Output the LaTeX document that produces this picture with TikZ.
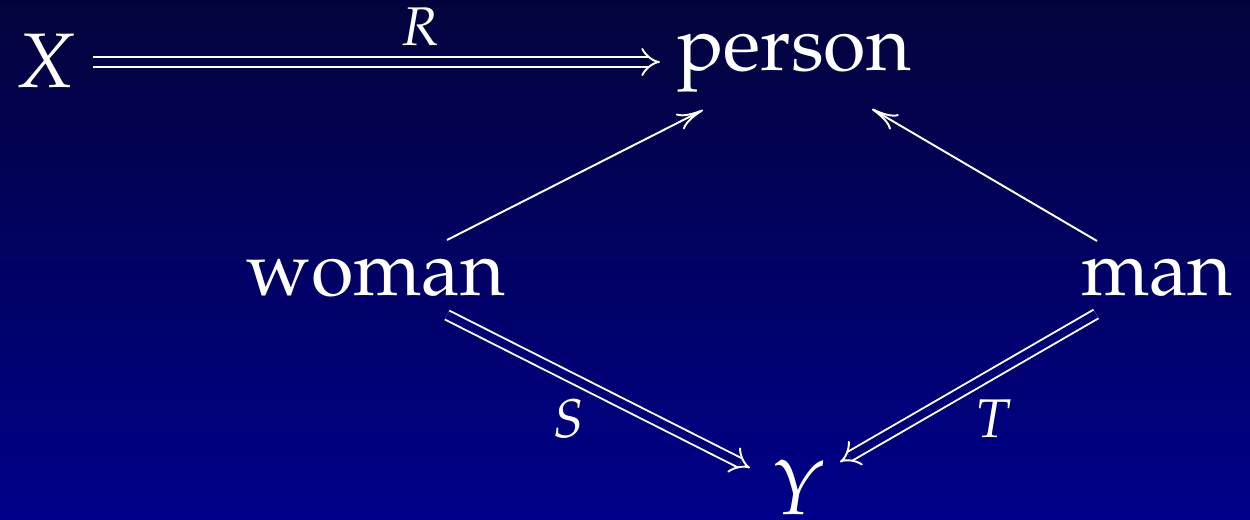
\documentclass[tikz,border=0pt]{standalone}
\usepackage[T1]{fontenc}
\usepackage{mathpazo}
\usetikzlibrary{arrows.meta}
\definecolor{bgtop}{RGB}{3,3,60}
\definecolor{bgbot}{RGB}{0,0,138}
\definecolor{bgA}{RGB}{2,2,69}
\definecolor{bgB}{RGB}{0,0,118}
\begin{document}
\begin{tikzpicture}[x=0.02cm,y=-0.02cm,
  obj/.style={text=white,inner sep=0pt,anchor=base,font=\fontsize{44}{50}\selectfont},
  lbl/.style={text=white,inner sep=0pt,anchor=base,font=\fontsize{31}{36}\selectfont\itshape},
  single/.style={draw=white,line width=1.1pt,-{Computer Modern Rightarrow[length=15pt,width=10pt]}},
  dbl/.style={draw=white,line width=1.1pt,double distance=4.5pt,-{Implies[length=15pt,width=16pt]}}]
\fill[top color=bgtop,bottom color=bgbot] (0,0) rectangle (1250,520);
\useasboundingbox (0,0) rectangle (1250,520);
\node[obj,font=\fontsize{44}{50}\selectfont\itshape] (X) at (45,88) {X};
\node[obj] (person) at (794,71) {person};
\node[obj] (woman) at (376,295) {woman};
\node[obj] (man) at (1157,295) {man};
\node[obj,font=\fontsize{44}{50}\selectfont\itshape] (Y) at (797,514) {Y};
\draw[dbl,double=bgA] ([shift={(48,-26)}]X.base) -- node[lbl,pos=0.578,yshift=0.34cm] (R) {R} ([shift={(-134,-9)}]person.base);
\draw[single] ([shift={(71,-55)}]woman.base) -- ([shift={(-91,39)}]person.base);
\draw[single] ([shift={(-60,-54)}]man.base) -- ([shift={(78,38)}]person.base);
\draw[dbl,double=bgB] ([shift={(71,20)}]woman.base) -- node[lbl,pos=0.4,yshift=-1.22cm] (S) {S} ([shift={(-47,-46)}]Y.base);
\draw[dbl,double=bgB] ([shift={(-61,19)}]man.base) -- node[lbl,pos=0.4,yshift=-1.28cm] (T) {T} ([shift={(43,-52)}]Y.base);
\end{tikzpicture}
\end{document}
